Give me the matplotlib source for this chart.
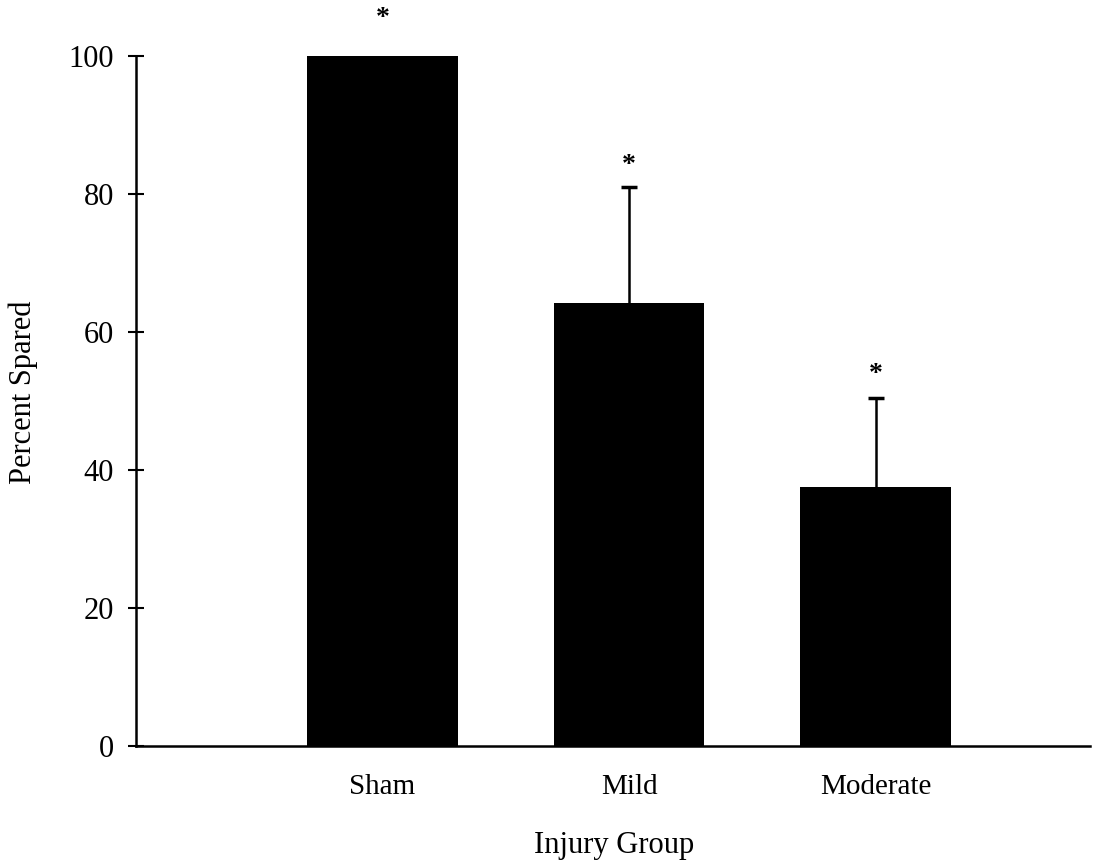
import matplotlib
matplotlib.use("Agg")
import matplotlib.pyplot as plt

categories = ["Sham", "Mild", "Moderate"]
values = [100.0, 64.2, 37.5]
errors = [0.0, 16.8, 12.9]
star_y = [105.5, 84.2, 53.9]
yticks = [0, 20, 40, 60, 80, 100]

plt.rcParams['font.family'] = ['Liberation Serif', 'DejaVu Serif']

fig = plt.figure(figsize=(10.97, 8.63), dpi=100)
ax = fig.add_axes([0.124, 0.1356, 0.8696, 0.7994])

xpos = [1, 2, 3]
ax.bar(xpos, values, width=0.61, color='black', zorder=2)
eb = ax.errorbar(xpos[1:], values[1:], yerr=[[0, 0], errors[1:]], fmt='none',
                 ecolor='black', elinewidth=1.8, capsize=6, capthick=2.5, zorder=1)
eb[1][0].set_visible(False)
for x, s in zip(xpos, star_y):
    ax.text(x, s, '*', ha='center', va='center', fontsize=20, fontweight='bold', clip_on=False)

ax.set_xlim(0, 3.87)
ax.set_ylim(0, 100)
ax.set_yticks(yticks)
ax.set_yticklabels([str(t) for t in yticks], fontsize=22)
ax.set_xticks(xpos)
ax.set_xticklabels(categories, fontsize=21)
ax.tick_params(axis='x', length=0, pad=20)
ax.tick_params(axis='y', direction='inout', length=12, width=1.5, pad=10)
for side in ['top', 'right']:
    ax.spines[side].set_visible(False)
ax.spines['left'].set_linewidth(1.8)
ax.spines['bottom'].set_linewidth(1.8)

fig.text(23 / 1097, 1 - 392 / 863, 'Percent Spared', rotation=90, fontsize=22,
         ha='center', va='center')
fig.text(614 / 1097, 1 - 845 / 863, 'Injury Group', fontsize=22,
         ha='center', va='center')

fig.savefig('out.png', dpi=100)
